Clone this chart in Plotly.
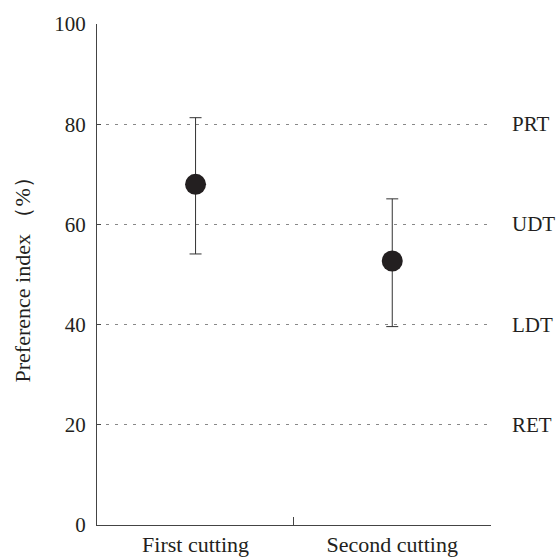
import plotly.graph_objects as go

categories = ["First cutting", "Second cutting"]
means = [68.0, 52.7]
err_plus = [13.3, 12.4]
err_minus = [13.9, 13.1]
ytick_vals = [0, 20, 40, 60, 80, 100]
threshold_vals = [80, 60, 40, 20]
threshold_labels = ["PRT", "UDT", "LDT", "RET"]

FONT = "Liberation Serif"
TXT = "#231f20"

fig = go.Figure()
fig.add_trace(go.Scatter(
    x=categories, y=means, mode="markers",
    marker=dict(size=21, color="#231f20"),
    error_y=dict(type="data", symmetric=False, array=err_plus, arrayminus=err_minus,
                 color="#333333", thickness=1, width=6),
    showlegend=False,
))

for v, lab in zip(threshold_vals, threshold_labels):
    fig.add_annotation(x=1, xref="paper", y=v, yref="y", text=lab, showarrow=False,
                       xanchor="left", xshift=19, font=dict(family=FONT, size=21, color=TXT))

fig.add_annotation(x=0, xref="paper", y=0.5, yref="paper", text="Preference index （%）",
                   textangle=-90, showarrow=False, xanchor="center", yanchor="middle",
                   xshift=-75, font=dict(family=FONT, size=22, color=TXT))

fig.update_layout(
    width=559, height=558,
    margin=dict(l=97, r=68, t=24, b=33),
    paper_bgcolor="white", plot_bgcolor="white",
    font=dict(family=FONT, size=21, color=TXT),
)
fig.update_xaxes(
    type="category", range=[-0.501, 1.502], tickson="boundaries", automargin=False,
    ticks="inside", ticklen=8, tickcolor="#444", tickwidth=1,
    showline=True, linecolor="#444", linewidth=1,
    showgrid=False, zeroline=False,
    tickfont=dict(family=FONT, size=22, color=TXT),
    ticklabelstandoff=0,
)
fig.update_yaxes(
    range=[0, 100], tickvals=ytick_vals, automargin=False,
    ticks="inside", ticklen=4, tickcolor="#444",
    showline=True, linecolor="#444", linewidth=1,
    showgrid=True, gridcolor="#888", griddash="3px,6px", gridwidth=1,
    zeroline=False,
    tickfont=dict(family=FONT, size=21, color=TXT),
    ticklabelstandoff=6,
)

fig.write_html("out.html", config={"displayModeBar": False},
               post_script="document.body.style.margin='0';document.body.style.overflow='hidden';")
